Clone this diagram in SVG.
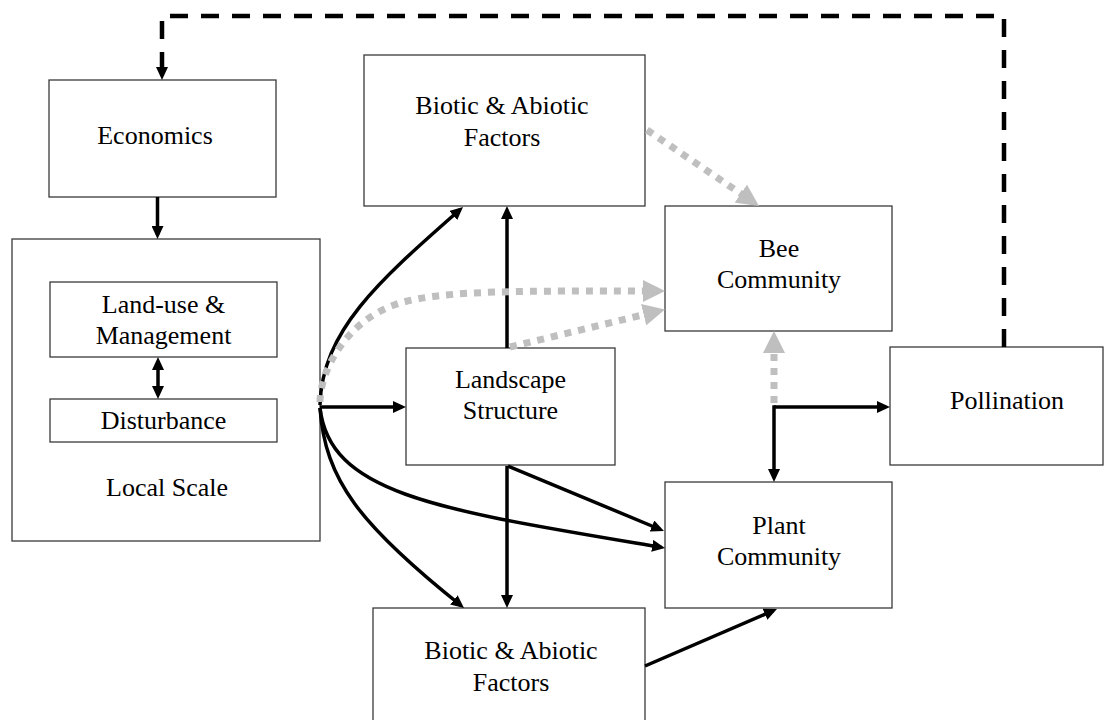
<svg xmlns="http://www.w3.org/2000/svg" width="1104" height="720" viewBox="0 0 1104 720">
<style>
.box{fill:#fff;stroke:#3a3a3a;stroke-width:1.3}
.t{font-family:'Liberation Serif','DejaVu Serif',serif;font-size:26px;fill:#000;text-anchor:middle}
.blk{fill:none;stroke:#000;stroke-width:3.5}
.dash{fill:none;stroke:#000;stroke-width:4.5;stroke-dasharray:18 13}
.gry{fill:none;stroke:#bfbfbf;stroke-width:7;stroke-dasharray:7 7}
</style>
<defs>
<marker id="ab" markerUnits="userSpaceOnUse" markerWidth="13" markerHeight="12" refX="9" refY="6" orient="auto-start-reverse" viewBox="0 0 13 12">
<path d="M0,0 L13,6 L0,12 z" fill="#000"/>
</marker>
<marker id="ag" markerUnits="userSpaceOnUse" markerWidth="22" markerHeight="22" refX="15" refY="11" orient="auto" viewBox="0 0 22 22">
<path d="M0,0 L22,11 L0,22 z" fill="#bfbfbf"/>
</marker>
</defs>

<g id="economics">
<rect class="box" x="49" y="80" width="227" height="117"/>
<text class="t" x="155" y="144" font-family="Liberation Serif, serif">Economics</text>
</g>
<g id="local-scale">
<rect class="box" x="12" y="239" width="308" height="302"/>
<text class="t" x="167" y="496">Local Scale</text>
</g>
<g id="land-use">
<rect class="box" x="50" y="282" width="227" height="75"/>
<text class="t" x="163.5" y="313">Land-use &amp;</text>
<text class="t" x="163.5" y="344">Management</text>
</g>
<g id="disturbance">
<rect class="box" x="50" y="399" width="227" height="43"/>
<text class="t" x="163.5" y="429">Disturbance</text>
</g>
<g id="biotic-top">
<rect class="box" x="364" y="55" width="281" height="151"/>
<text class="t" x="502" y="114">Biotic &amp; Abiotic</text>
<text class="t" x="502" y="146">Factors</text>
</g>
<g id="bee-community">
<rect class="box" x="665" y="206" width="227" height="125"/>
<text class="t" x="779" y="257">Bee</text>
<text class="t" x="779" y="288">Community</text>
</g>
<g id="landscape-structure">
<rect class="box" x="406" y="348" width="209" height="117"/>
<text class="t" x="510.5" y="388">Landscape</text>
<text class="t" x="510.5" y="419">Structure</text>
</g>
<g id="pollination">
<rect class="box" x="890" y="347" width="213" height="118"/>
<text class="t" x="1007" y="409">Pollination</text>
</g>
<g id="plant-community">
<rect class="box" x="665" y="482" width="227" height="126"/>
<text class="t" x="779" y="534">Plant</text>
<text class="t" x="779" y="565">Community</text>
</g>
<g id="biotic-bottom">
<rect class="box" x="373" y="608" width="272" height="120"/>
<text class="t" x="511" y="659">Biotic &amp; Abiotic</text>
<text class="t" x="511" y="691">Factors</text>
</g>

<g id="connectors">
<path class="dash" d="M1004,347 V16 H162 V76" marker-end="url(#ab)"/>
<path class="blk" d="M157.5,197 V235" marker-end="url(#ab)"/>
<path class="blk" d="M158,361 V395" marker-start="url(#ab)" marker-end="url(#ab)"/>
<path class="blk" d="M320,407 H402" marker-end="url(#ab)"/>
<path class="blk" d="M507,348 V210" marker-end="url(#ab)"/>
<path class="blk" d="M320,405 C322,330 380,280 460,209.6" marker-end="url(#ab)"/>
<path class="blk" d="M320,408 C325,480 360,525 460.9,605.5" marker-end="url(#ab)"/>
<path class="blk" d="M320,408 C330,495 440,510 661.1,547.3" marker-end="url(#ab)"/>
<path class="blk" d="M508,466 L660.3,529.5" marker-end="url(#ab)"/>
<path class="blk" d="M507,466 V604" marker-end="url(#ab)"/>
<path class="blk" d="M645,666 L773.3,610.6" marker-end="url(#ab)"/>
<path class="blk" d="M774,407 H886" marker-end="url(#ab)"/>
<path class="blk" d="M774,405.3 V478" marker-end="url(#ab)"/>
<path class="gry" d="M320,402 C320,372 345,320 400,303 C445,290 520,291 658,291" marker-end="url(#ag)"/>
<path class="gry" d="M510,347 L658.2,311.2" marker-end="url(#ag)"/>
<path class="gry" d="M647,130 L753.2,202.1" marker-end="url(#ag)"/>
<path class="gry" d="M774,403 V338" marker-end="url(#ag)"/>
</g>
</svg>
